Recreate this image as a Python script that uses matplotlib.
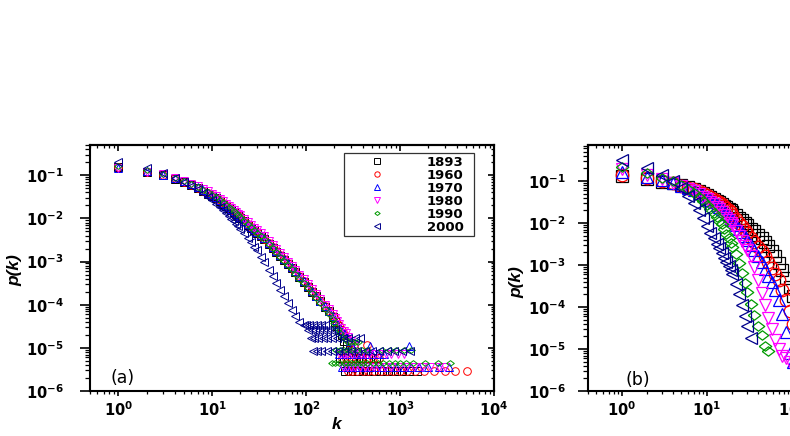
import matplotlib
matplotlib.use('Agg')
import matplotlib.pyplot as plt
from matplotlib.ticker import NullFormatter

plt.rcParams['font.family'] = ['DejaVu Sans']
plt.rcParams['font.weight'] = 'bold'
plt.rcParams['mathtext.default'] = 'regular'

################################################################################
# Datos
years = ['1893', '1960', '1970', '1980', '1990', '2000']

# Panel (a): cuerpo de la distribucion
ka = [1, 2, 3, 4, 5, 6, 7, 8, 9, 10, 11, 12, 13, 14, 15, 16, 17, 18, 19, 20,
      22, 24, 26, 28, 30, 33, 36, 40, 44, 48, 53, 58, 64, 70, 77, 85, 94, 104,
      115, 128, 142, 158, 175, 195]

pa_1893 = [0.155, 0.12, 0.1, 0.083, 0.07, 0.059, 0.05, 0.043, 0.037, 0.033,
           0.029, 0.025, 0.022, 0.0195, 0.0173, 0.0155, 0.0139, 0.0125, 0.0113, 0.0103,
           0.0085, 0.0071, 0.0061, 0.0053, 0.0046, 0.0039, 0.0033, 0.0026, 0.0021, 0.0017,
           0.00134, 0.0011, 0.00086, 0.0007, 0.00056, 0.00044, 0.00034, 0.00026, 0.0002, 0.000155,
           0.00012, 0.00009, 0.00007, 0.000052]
pa_1960 = [0.152, 0.121, 0.102, 0.085, 0.071, 0.06, 0.051, 0.044, 0.038, 0.034,
           0.0298, 0.026, 0.0228, 0.0201, 0.0179, 0.016, 0.0143, 0.013, 0.0117, 0.0106,
           0.0087, 0.0073, 0.0063, 0.0055, 0.0048, 0.004, 0.0034, 0.0027, 0.00215, 0.00175,
           0.00138, 0.00113, 0.0009, 0.00072, 0.00058, 0.00045, 0.00035, 0.00027, 0.00021, 0.00016,
           0.000122, 0.000092, 0.000071, 0.000054]
pa_1970 = [0.15, 0.122, 0.103, 0.086, 0.072, 0.061, 0.052, 0.045, 0.039, 0.035,
           0.0305, 0.0265, 0.0232, 0.0205, 0.0182, 0.0163, 0.0146, 0.0132, 0.0119, 0.0108,
           0.0089, 0.0075, 0.0064, 0.0056, 0.0049, 0.0041, 0.0035, 0.00275, 0.0022, 0.00178,
           0.00141, 0.00115, 0.00091, 0.00073, 0.00059, 0.00046, 0.000355, 0.000274, 0.00021, 0.000162,
           0.000124, 0.000093, 0.000072, 0.000055]
pa_1980 = [0.145, 0.118, 0.104, 0.088, 0.075, 0.064, 0.055, 0.048, 0.042, 0.037,
           0.0325, 0.0285, 0.025, 0.022, 0.0196, 0.0176, 0.0158, 0.0143, 0.0129, 0.0117,
           0.0097, 0.0082, 0.007, 0.0061, 0.0053, 0.0045, 0.0038, 0.003, 0.0024, 0.00195,
           0.00155, 0.00125, 0.001, 0.0008, 0.00064, 0.0005, 0.00039, 0.0003, 0.00023, 0.000175,
           0.000135, 0.0001, 0.000078, 0.00006]
pa_1990 = [0.165, 0.13, 0.105, 0.087, 0.073, 0.062, 0.053, 0.046, 0.04, 0.0355,
           0.031, 0.027, 0.0236, 0.0208, 0.0184, 0.0164, 0.0147, 0.0132, 0.0119, 0.0108,
           0.0088, 0.0074, 0.0063, 0.0054, 0.0047, 0.0039, 0.0033, 0.0026, 0.00205, 0.00165,
           0.0013, 0.00105, 0.00082, 0.00066, 0.00052, 0.0004, 0.00031, 0.00024, 0.000185, 0.00014,
           0.000107, 0.00008, 0.000062, 0.000047]
pa_2000 = [0.2, 0.15, 0.11, 0.088, 0.07, 0.057, 0.047, 0.039, 0.032, 0.026,
           0.022, 0.0185, 0.0157, 0.0134, 0.0115, 0.0099, 0.0086, 0.0075, 0.0066, 0.0058,
           0.0045, 0.0035, 0.0028, 0.0022, 0.0018, 0.0013, 0.00095, 0.00065, 0.00045, 0.00032,
           0.00022, 0.000155, 0.000108, 0.000077, 0.000055, 0.00004]

# Panel (a): colas (niveles discretos)
ta_1893_k = [205, 215, 225, 240, 255, 270, 290,
             230, 250, 280, 310, 340, 380, 430, 480, 550,
             260, 300, 330, 360, 400, 450, 520, 600, 680, 780, 900, 1050, 1250, 1500]
ta_1893_p = [4.0e-5, 3.2e-5, 2.6e-5, 2.0e-5, 1.45e-5, 1.15e-5, 8.7e-6,
             5.8e-6, 5.8e-6, 5.8e-6, 5.8e-6, 5.8e-6, 5.8e-6, 5.8e-6, 5.8e-6, 5.8e-6,
             2.9e-6, 2.9e-6, 2.9e-6, 2.9e-6, 2.9e-6, 2.9e-6, 2.9e-6, 2.9e-6, 2.9e-6, 2.9e-6,
             2.9e-6, 2.9e-6, 2.9e-6, 2.9e-6]
ta_1960_k = [210, 225, 240, 255, 270, 290, 320, 450,
             240, 265, 300, 340, 390, 450, 520, 600,
             280, 310, 350, 400, 460, 530, 620, 720, 850, 1000, 1200, 1450, 1800, 2300,
             3000, 3800, 5100]
ta_1960_p = [4.2e-5, 3.3e-5, 2.6e-5, 2.1e-5, 1.7e-5, 1.3e-5, 1.05e-5, 1.16e-5,
             5.8e-6, 5.8e-6, 5.8e-6, 5.8e-6, 5.8e-6, 5.8e-6, 5.8e-6, 5.8e-6,
             2.9e-6, 2.9e-6, 2.9e-6, 2.9e-6, 2.9e-6, 2.9e-6, 2.9e-6, 2.9e-6, 2.9e-6, 2.9e-6,
             2.9e-6, 2.9e-6, 2.9e-6, 2.9e-6, 2.9e-6, 2.9e-6, 2.9e-6]
ta_1970_k = [205, 215, 228, 240, 255, 270, 290, 310, 480, 1250,
             225, 245, 270, 300, 340, 380, 430, 500, 580, 680,
             240, 265, 295, 330, 370, 420, 480, 560, 650, 760, 900, 1100, 1300, 1600,
             2000, 2600, 3300]
ta_1970_p = [4.3e-5, 3.6e-5, 2.9e-5, 2.5e-5, 2.2e-5, 1.8e-5, 1.45e-5, 1.1e-5, 1.08e-5, 1.08e-5,
             7.2e-6, 7.2e-6, 7.2e-6, 7.2e-6, 7.2e-6, 7.2e-6, 7.2e-6, 7.2e-6, 7.2e-6, 7.2e-6,
             3.6e-6, 3.6e-6, 3.6e-6, 3.6e-6, 3.6e-6, 3.6e-6, 3.6e-6, 3.6e-6, 3.6e-6, 3.6e-6,
             3.6e-6, 3.6e-6, 3.6e-6, 3.6e-6, 3.6e-6, 3.6e-6, 3.6e-6]
ta_1980_k = [205, 215, 225, 238, 250, 265, 280, 300, 330,
             230, 250, 275, 305, 340, 380, 420, 470, 530, 600, 700, 800, 950, 1100,
             245, 270, 300, 335, 375, 420, 470, 530, 600, 690, 800, 950, 1150, 1400,
             1700, 2100, 2600, 3000]
ta_1980_p = [5.0e-5, 4.2e-5, 3.6e-5, 2.9e-5, 2.5e-5, 2.2e-5, 1.8e-5, 1.45e-5, 1.1e-5,
             7.2e-6, 7.2e-6, 7.2e-6, 7.2e-6, 7.2e-6, 7.2e-6, 7.2e-6, 7.2e-6, 7.2e-6, 7.2e-6,
             7.2e-6, 7.2e-6, 7.2e-6, 7.2e-6,
             3.6e-6, 3.6e-6, 3.6e-6, 3.6e-6, 3.6e-6, 3.6e-6, 3.6e-6, 3.6e-6, 3.6e-6, 3.6e-6,
             3.6e-6, 3.6e-6, 3.6e-6, 3.6e-6, 3.6e-6, 3.6e-6, 3.6e-6, 3.6e-6]
ta_1990_k = [200, 210, 220, 232, 245, 260, 280, 300, 330, 360,
             210, 230, 255, 280, 310, 345, 390, 440, 650, 780, 900, 1100, 1300,
             190, 205, 225, 250, 275, 300, 330, 365, 400, 450, 510, 580, 660, 760, 880,
             1000, 1150, 1370, 1850, 2560, 3400]
ta_1990_p = [3.7e-5, 3.1e-5, 2.7e-5, 2.25e-5, 1.8e-5, 1.6e-5, 1.35e-5, 1.35e-5, 1.35e-5, 1.35e-5,
             9e-6, 9e-6, 9e-6, 9e-6, 9e-6, 9e-6, 9e-6, 9e-6, 9e-6, 9e-6, 9e-6, 9e-6, 9e-6,
             4.5e-6, 4.5e-6, 4.5e-6, 4.5e-6, 4.5e-6, 4.5e-6, 4.5e-6, 4.5e-6, 4.5e-6, 4.5e-6,
             4.5e-6, 4.5e-6, 4.5e-6, 4.5e-6, 4.5e-6, 4.5e-6, 4.5e-6, 4.5e-6, 4.5e-6, 4.5e-6,
             4.5e-6]
ta_2000_k = [94, 100, 108, 118, 130, 145, 160,
             105, 115, 125, 138, 150, 165, 185, 205,
             112, 122, 135, 150, 168, 190, 215, 245, 280, 330, 375,
             118, 130, 145, 165, 190, 220, 255, 300, 350, 420, 500, 600, 720, 870, 1050, 1270]
ta_2000_p = [3.4e-5, 3.4e-5, 3.4e-5, 3.4e-5, 3.4e-5, 3.4e-5, 3.4e-5,
             2.55e-5, 2.55e-5, 2.55e-5, 2.55e-5, 2.55e-5, 2.55e-5, 2.55e-5, 2.55e-5,
             1.7e-5, 1.7e-5, 1.7e-5, 1.7e-5, 1.7e-5, 1.7e-5, 1.7e-5, 1.7e-5, 1.7e-5, 1.7e-5, 1.7e-5,
             8.5e-6, 8.5e-6, 8.5e-6, 8.5e-6, 8.5e-6, 8.5e-6, 8.5e-6, 8.5e-6, 8.5e-6, 8.5e-6,
             8.5e-6, 8.5e-6, 8.5e-6, 8.5e-6, 8.5e-6, 8.5e-6]

# Panel (b)
kb = [1, 2, 3, 4, 5, 6, 7, 8, 9, 10, 11, 12, 13, 14, 15, 16, 17, 18, 19, 20,
      22, 24, 26, 28, 30, 33, 36, 40, 44, 48, 53, 58, 64, 70, 77, 85, 94, 104, 115, 128]

pb_1893 = [0.13, 0.11, 0.097, 0.088, 0.08, 0.072, 0.064, 0.057, 0.051, 0.046,
           0.042, 0.038, 0.034, 0.031, 0.028, 0.0258, 0.0238, 0.022, 0.0202, 0.0186,
           0.0158, 0.0135, 0.0116, 0.01, 0.0088, 0.0074, 0.0063, 0.0052, 0.0043, 0.0035,
           0.0028, 0.0022, 0.0016, 0.0011, 0.00075, 0.00048, 0.0003, 0.00018, 0.0001, 0.000055]
pb_1960 = [0.14, 0.118, 0.1, 0.088, 0.078, 0.07, 0.063, 0.057, 0.052, 0.047,
           0.042, 0.038, 0.034, 0.031, 0.028, 0.0252, 0.0225, 0.02, 0.0178, 0.0158,
           0.0125, 0.0102, 0.0084, 0.007, 0.0058, 0.0045, 0.0036, 0.0027, 0.0021, 0.0016,
           0.0012, 0.00085, 0.0006, 0.00043, 0.00026, 0.00015, 0.00008, 0.00004, 0.00002, 0.00001]
pb_1970 = [0.16, 0.125, 0.105, 0.09, 0.078, 0.068, 0.06, 0.052, 0.046, 0.04,
           0.035, 0.031, 0.027, 0.024, 0.0215, 0.019, 0.0168, 0.0148, 0.013, 0.0115,
           0.0092, 0.0074, 0.006, 0.0049, 0.004, 0.003, 0.0023, 0.0016, 0.00115, 0.00082,
           0.00056, 0.00039, 0.00026, 0.00015, 0.00007, 0.000025, 0.000008, 0.000005]
pb_1980 = [0.19, 0.14, 0.11, 0.09, 0.077, 0.066, 0.057, 0.049, 0.042, 0.037,
           0.032, 0.028, 0.024, 0.021, 0.018, 0.0155, 0.0133, 0.0115, 0.01, 0.0088,
           0.0066, 0.0049, 0.0037, 0.0029, 0.0023, 0.0016, 0.0009, 0.00045, 0.00022, 0.00011,
           0.000055, 0.00003, 0.000016, 0.00001, 0.000007, 0.000006, 0.000005]
pb_1990 = [0.22, 0.155, 0.12, 0.1, 0.08, 0.065, 0.052, 0.042, 0.034, 0.027,
           0.021, 0.017, 0.0138, 0.0113, 0.0093, 0.0072, 0.0055, 0.0043, 0.0034, 0.0027,
           0.0018, 0.0011, 0.00065, 0.00038, 0.00023, 0.00012, 0.000065, 0.000035, 0.000022, 0.000012,
           0.000009]
pb_2000 = [0.32, 0.2, 0.14, 0.1, 0.07, 0.045, 0.03, 0.02, 0.013, 0.0085,
           0.0058, 0.0043, 0.0032, 0.0025, 0.0019, 0.0015, 0.0012, 0.00095, 0.00075, 0.0006,
           0.00036, 0.0002, 0.00011, 0.00006, 0.000035, 0.000018]
################################################################################

# Estilos
diamante = [(-1, 0), (0, 0.75), (1, 0), (0, -0.75), (-1, 0)]
marcadores = ['s', 'o', '^', 'v', diamante, '<']
colores = ['black', 'red', 'blue', 'magenta', '#009a00', '#00008b']

cuerpos_a = [pa_1893, pa_1960, pa_1970, pa_1980, pa_1990, pa_2000]
colas_a = [(ta_1893_k, ta_1893_p), (ta_1960_k, ta_1960_p), (ta_1970_k, ta_1970_p),
           (ta_1980_k, ta_1980_p), (ta_1990_k, ta_1990_p), (ta_2000_k, ta_2000_p)]
cuerpos_b = [pb_1893, pb_1960, pb_1970, pb_1980, pb_1990, pb_2000]

fig = plt.figure(figsize=(7.9, 4.36), dpi=100)
ax1 = fig.add_axes([0.1139, 0.1032, 0.5114, 0.5642])
ax2 = fig.add_axes([0.7443, 0.1032, 0.4734, 0.5642])


def estilo_ejes(ax, xlim, ylim, pad_y):
    ax.set_xscale('log')
    ax.set_yscale('log')
    ax.set_xlim(*xlim)
    ax.set_ylim(*ylim)
    for s in ax.spines.values():
        s.set_linewidth(1.5)
    ax.tick_params(top=False, right=False)
    ax.tick_params(axis='y', which='major', direction='out', length=7, width=1.2, pad=pad_y, labelsize=10.5)
    ax.tick_params(axis='y', which='minor', direction='out', length=3.5, width=0.9)
    ax.tick_params(axis='x', which='major', direction='out', length=3.5, width=1.2, pad=3, labelsize=10.5)
    ax.tick_params(axis='x', which='minor', direction='out', length=2.2, width=0.9)
    ax.xaxis.set_minor_formatter(NullFormatter())
    ax.yaxis.set_minor_formatter(NullFormatter())
    # etiquetas del eje y alineadas a la izquierda
    plt.setp(ax.get_yticklabels(), ha='left')
    # ejes secundarios con ticks hacia dentro
    sx = ax.secondary_xaxis('top')
    sx.tick_params(which='major', direction='in', length=4, width=1.2, labeltop=False)
    sx.tick_params(which='minor', direction='in', length=2.2, width=0.9)
    sx.xaxis.set_major_formatter(NullFormatter())
    sx.xaxis.set_minor_formatter(NullFormatter())
    sx.spines['top'].set_linewidth(1.5)
    sy = ax.secondary_yaxis('right')
    sy.tick_params(which='major', direction='in', length=4.5, width=1.2, labelright=False)
    sy.tick_params(which='minor', direction='in', length=2.5, width=0.9)
    sy.yaxis.set_major_formatter(NullFormatter())
    sy.yaxis.set_minor_formatter(NullFormatter())
    sy.spines['right'].set_linewidth(1.5)


# Panel (a)
for i in range(len(years)):
    p = cuerpos_a[i]
    tk, tp = colas_a[i]
    ax1.plot(ka[:len(p)] + tk, p + tp, linestyle='none', marker=marcadores[i],
             mfc='none', mec=colores[i], ms=5.5, mew=0.7, label=years[i])
estilo_ejes(ax1, (0.5, 1e4), (1e-6, 0.5), 39)
leg = ax1.legend(loc='upper left', bbox_to_anchor=(0.629, 0.634, 0.321, 0.333), mode='expand',
                 prop={'weight': 'bold', 'size': 9.5}, fancybox=False,
                 edgecolor='#333333', framealpha=1, handlelength=4.6,
                 handletextpad=1.45, borderpad=0.2, labelspacing=0.0,
                 markerscale=0.7, borderaxespad=0)
leg.get_frame().set_linewidth(0.9)
ax1.text(0.05, 0.053, '(a)', transform=ax1.transAxes, fontsize=12.5, fontweight='normal',
         va='center', ha='left')

# Panel (b)
for i in range(len(years)):
    p = cuerpos_b[i]
    ax2.plot(kb[:len(p)], p, linestyle='none', marker=marcadores[i],
             mfc='none', mec=colores[i], ms=9, mew=0.9)
estilo_ejes(ax2, (0.4, 1e4), (1e-6, 0.72), 36)
ax2.text(0.099, 0.045, '(b)', transform=ax2.transAxes, fontsize=12.5, fontweight='normal',
         va='center', ha='left')

# Etiquetas
fig.text(15 / 790, 1 - 270 / 436, 'p(k)', rotation=90, fontsize=12.5, ha='center', va='center',
         family='Liberation Sans', fontweight='bold', fontstyle='italic')
fig.text(517 / 790, 1 - 282 / 436, 'p(k)', rotation=90, fontsize=12.5, ha='center', va='center',
         family='Liberation Sans', fontweight='bold', fontstyle='italic')
fig.text(337 / 790, 1 - 424 / 436, 'k', fontsize=12.5, ha='center', va='center',
         family='Liberation Sans', fontweight='bold', fontstyle='italic')

fig.savefig('out.png', dpi=100)
